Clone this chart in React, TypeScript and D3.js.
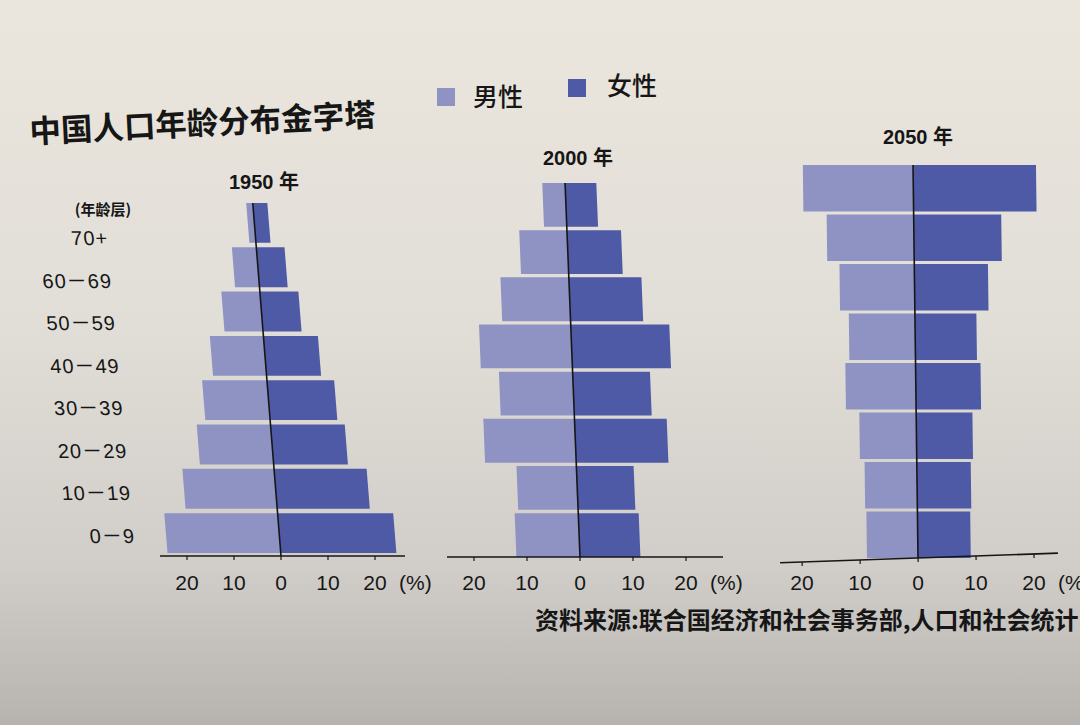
import * as d3 from 'd3';

// age bands, bottom (youngest) to top
const ageGroups = ['0-9', '10-19', '20-29', '30-39', '40-49', '50-59', '60-69', '70+'];
const years = ['1950', '2000', '2050'];

// % of each sex
const male1950 = [24.1, 19.5, 15.7, 13.8, 11.4, 8.2, 5.2, 1.4];
const female1950 = [24.6, 19.7, 15.8, 14.3, 11.6, 8.2, 6.0, 3.1];
const male2000 = [12.0, 11.3, 17.2, 13.9, 17.3, 12.9, 9.0, 4.3];
const female2000 = [11.4, 10.8, 17.4, 14.6, 18.6, 13.7, 10.2, 5.9];
const male2050 = [8.8, 9.0, 9.8, 12.1, 11.4, 12.9, 15.0, 19.0];
const female2050 = [9.1, 9.3, 9.7, 11.2, 10.6, 12.7, 15.1, 21.2];

const tickValues = [-20, -10, 0, 10, 20];

const COLORS = {
  male: '#8e93c3',
  female: '#4f5aa6',
  ink: '#161616',
};

const NUM_FONT = '"Liberation Sans", Arial, "Noto Sans CJK SC", sans-serif';
const CJK_FONT = '"Noto Sans CJK SC", "Noto Sans", sans-serif';

// layout of each pyramid (the photo has some perspective, so each one differs a bit)
const panels = [
  { year: years[0], male: male1950, female: female1950, cx: 281, top: 203, bottom: 553, axisY: 556, unit: 4.7, lean: 0.08, pad: 0.1, axisFrom: 160, axisTo: 405, axisRot: 0, titleX: 264, titleY: 189 },
  { year: years[1], male: male2000, female: female2000, cx: 580, top: 183, bottom: 557, axisY: 557, unit: 5.3, lean: 0.04, pad: 0.07, axisFrom: 447, axisTo: 723, axisRot: 0, titleX: 578, titleY: 165 },
  { year: years[2], male: male2050, female: female2050, cx: 918, top: 165, bottom: 558, axisY: 558, unit: 5.8, lean: 0.0127, pad: 0.06, axisFrom: 780, axisTo: 1058, axisRot: -2, titleX: 918, titleY: 144 },
];

function Pyramid({ p }: { p: (typeof panels)[number] }) {
  const x = d3.scaleLinear().domain([-10, 10]).range([p.cx - 10 * p.unit, p.cx + 10 * p.unit]);
  const y = d3
    .scaleBand<string>()
    .domain([...ageGroups].reverse())
    .range([p.top, p.bottom])
    .paddingInner(p.pad);
  const deg = (Math.atan(p.lean) * 180) / Math.PI;
  const lean = `translate(${p.cx},${p.axisY}) skewX(${deg}) translate(${-p.cx},${-p.axisY})`;

  return (
    <g>
      <text
        x={p.titleX}
        y={p.titleY}
        textAnchor="middle"
        fontFamily={NUM_FONT}
        fontWeight="bold"
        fontSize={20}
        fill={COLORS.ink}
      >
        {p.year} 年
      </text>

      <g transform={lean}>
        {ageGroups.map((a, i) => (
          <g key={a}>
            <rect
              x={x(-p.male[i])}
              y={y(a)}
              width={x(0) - x(-p.male[i])}
              height={y.bandwidth()}
              fill={COLORS.male}
            />
            <rect
              x={x(0)}
              y={y(a)}
              width={x(p.female[i]) - x(0)}
              height={y.bandwidth()}
              fill={COLORS.female}
            />
          </g>
        ))}
        <line x1={x(0)} x2={x(0)} y1={p.top} y2={p.axisY} stroke={COLORS.ink} strokeWidth={1.6} />
      </g>

      <g transform={`rotate(${p.axisRot},${p.cx},${p.axisY})`}>
        <line x1={p.axisFrom} x2={p.axisTo} y1={p.axisY} y2={p.axisY} stroke={COLORS.ink} strokeWidth={1.6} />
        {tickValues.map((t) => (
          <line key={t} x1={x(t)} x2={x(t)} y1={p.axisY} y2={p.axisY + 4} stroke={COLORS.ink} strokeWidth={1.2} />
        ))}
      </g>

      {tickValues.map((t) => (
        <text
          key={t}
          x={x(t)}
          y={590}
          textAnchor="middle"
          fontFamily={NUM_FONT}
          fontSize={21}
          fill={COLORS.ink}
        >
          {Math.abs(t)}
        </text>
      ))}
      <text x={x(20) + 24} y={590} fontFamily={NUM_FONT} fontSize={21} fill={COLORS.ink}>
        (%)
      </text>
    </g>
  );
}

export default function App() {
  const W = 1080;
  const H = 725;

  // age labels sit on their own spacing at the left of the 1950 pyramid
  const labelY = d3.scaleBand<string>().domain([...ageGroups].reverse()).range([217, 557]);
  const labelLean = (Math.atan(0.09) * 180) / Math.PI;

  return (
    <svg
      width={W}
      height={H}
      viewBox={`0 0 ${W} ${H}`}
      style={{ position: 'fixed', left: 0, top: 0, display: 'block' }}
    >
      <defs>
        <linearGradient id="paper" x1="0" y1="0" x2="0" y2="1">
          <stop offset="0%" stopColor="#ebe6dd" />
          <stop offset="45%" stopColor="#e1ded8" />
          <stop offset="78%" stopColor="#d1cec9" />
          <stop offset="100%" stopColor="#b7b3af" />
        </linearGradient>
      </defs>
      <rect width={W} height={H} fill="url(#paper)" />

      {/* title */}
      <text
        x={30}
        y={143}
        transform="rotate(-2.8,30,143)"
        fontFamily={CJK_FONT}
        fontWeight="bold"
        fontSize={31.5}
        fill={COLORS.ink}
      >
        中国人口年龄分布金字塔
      </text>

      {/* legend */}
      <rect x={437} y={88} width={18} height={18} fill={COLORS.male} />
      <text x={473} y={106} fontFamily={CJK_FONT} fontWeight={500} fontSize={25} fill={COLORS.ink}>
        男性
      </text>
      <rect x={568} y={79} width={18} height={18} fill={COLORS.female} />
      <text x={607} y={95} fontFamily={CJK_FONT} fontWeight={500} fontSize={25} fill={COLORS.ink}>
        女性
      </text>

      {/* age axis */}
      <text x={103} y={215} textAnchor="middle" fontFamily={CJK_FONT} fontWeight="bold" fontSize={15} fill={COLORS.ink}>
        (年龄层)
      </text>
      <g transform={`translate(135,537) skewX(${labelLean}) translate(-135,-537)`}>
        {ageGroups.map((a) => (
          <text
            key={a}
            x={135}
            y={(labelY(a) ?? 0) + labelY.bandwidth() / 2}
            dy="0.36em"
            textAnchor="end"
            fontFamily={NUM_FONT}
            fontSize={20}
            letterSpacing={1}
            fill={COLORS.ink}
          >
            {a.replace('-', '－')}
          </text>
        ))}
      </g>

      {panels.map((p) => (
        <Pyramid key={p.year} p={p} />
      ))}

      {/* source */}
      <text x={535} y={629} fontFamily={CJK_FONT} fontWeight="bold" fontSize={24} fill={COLORS.ink}>
        资料来源:联合国经济和社会事务部,人口和社会统计
      </text>
    </svg>
  );
}
